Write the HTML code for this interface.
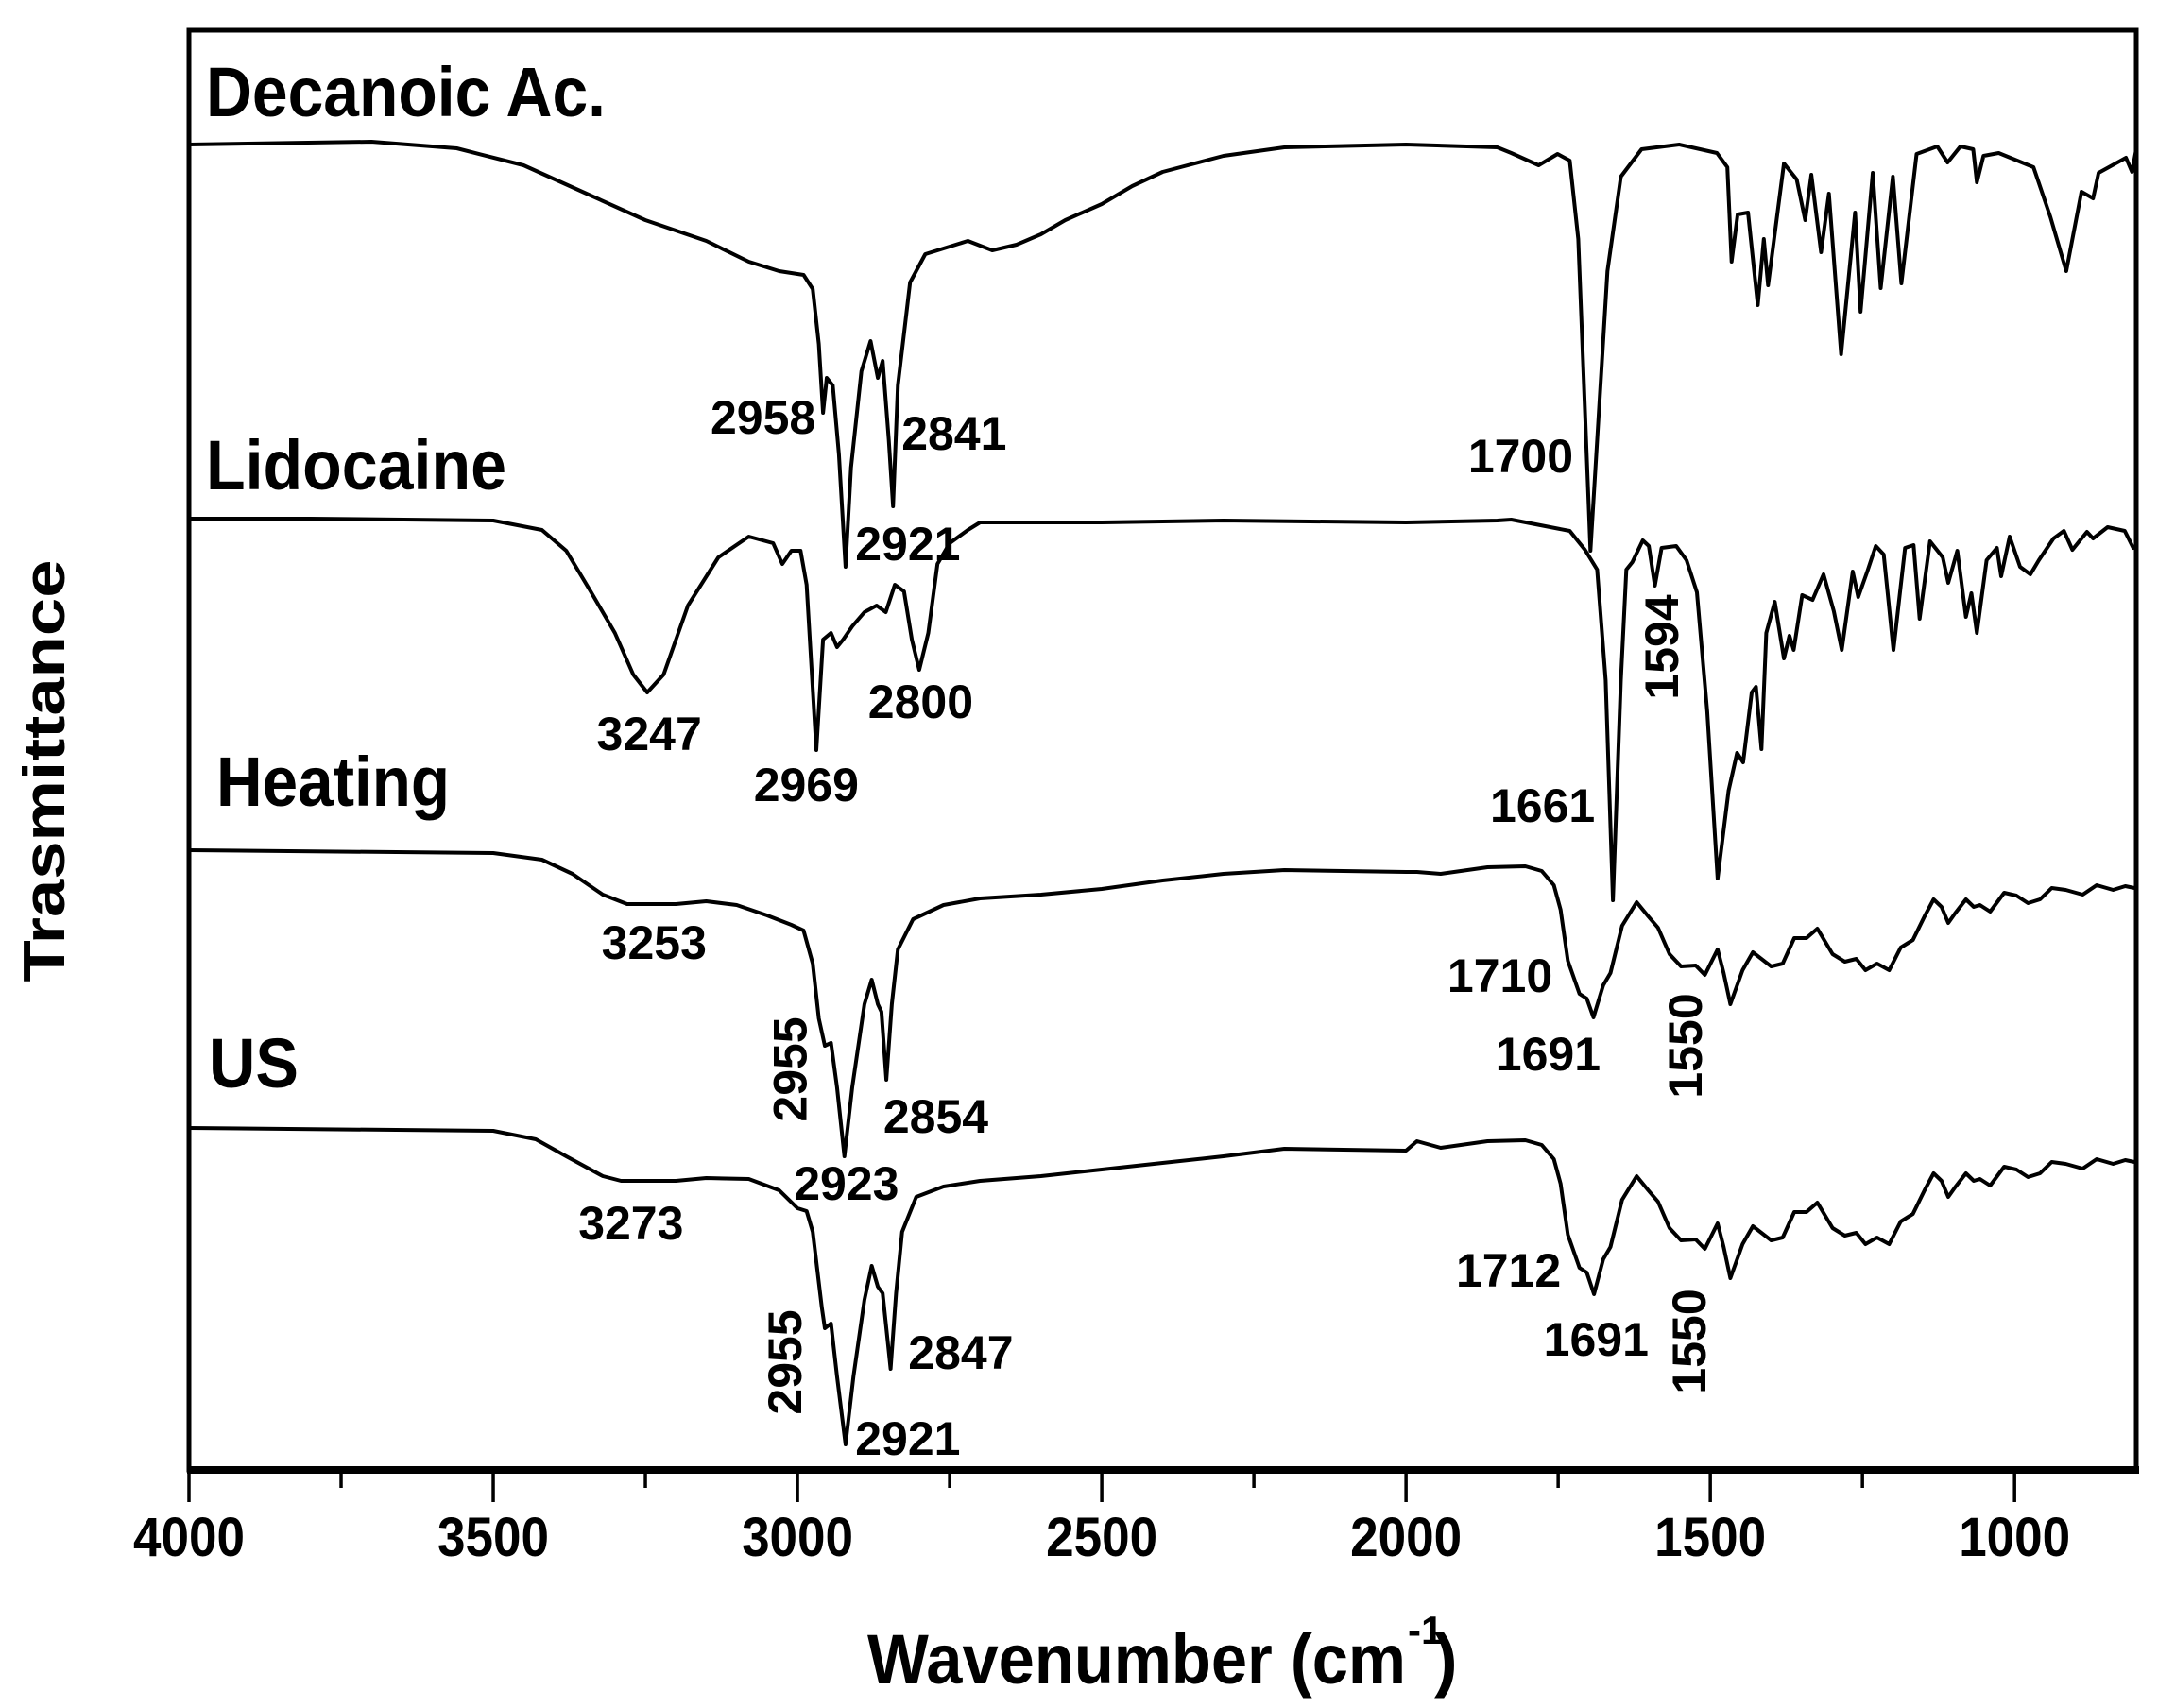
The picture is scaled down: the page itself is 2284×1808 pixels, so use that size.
<!DOCTYPE html>
<html><head><meta charset="utf-8"><style>
html,body{margin:0;padding:0;background:#fff;}
svg{display:block;}
text{font-family:"Liberation Sans",sans-serif;font-weight:bold;fill:#000;}
</style></head><body>
<svg id="chart" width="2284" height="1808" viewBox="0 0 2284 1808" xmlns="http://www.w3.org/2000/svg">
<g id="axes"></g>
<g id="series"></g>
<g id="labels"></g>
</svg>
<script>
// ---- data: wavenumber (cm-1) and transmittance (a.u.) ----
const xTicks = [4000, 3500, 3000, 2500, 2000, 1500, 1000];
const xMinorTicks = [3750, 3250, 2750, 2250, 1750, 1250];
const seriesNames = ["Decanoic Ac.", "Lidocaine", "Heating", "US"];

const decanoicWn = [4000,3700,3560,3450,3350,3250,3150,3080,3030,2990,2975,2965,2958,2952,2942,2932,2921,2912,2895,2880,2868,2860,2850,2843,2835,2815,2790,2720,2680,2640,2600,2560,2500,2450,2400,2300,2200,2000,1850,1827,1782,1751,1731,1717,1697,1669,1647,1613,1551,1489,1472,1465,1455,1438,1422,1412,1405,1379,1358,1344,1334,1318,1305,1285,1262,1253,1233,1220,1200,1186,1161,1127,1110,1089,1068,1062,1051,1026,969,941,915,890,871,862,817,807,800];
const decanoicT = [1398,1401,1394,1376,1347,1318,1296,1274,1264,1260,1245,1187,1114,1151,1143,1070,951,1056,1158,1190,1151,1169,1085,1015,1143,1252,1282,1296,1286,1292,1303,1318,1335,1354,1369,1386,1395,1398,1395,1389,1376,1388,1381,1298,968,1264,1364,1393,1398,1389,1374,1274,1324,1326,1228,1298,1249,1378,1361,1318,1366,1284,1346,1176,1326,1221,1368,1246,1364,1251,1388,1396,1379,1396,1393,1358,1386,1389,1374,1321,1264,1348,1341,1368,1384,1369,1393];

const lidoWn = [4000,3800,3500,3420,3380,3340,3300,3270,3247,3220,3180,3130,3080,3040,3025,3010,2995,2985,2969,2958,2945,2935,2925,2910,2890,2870,2855,2840,2825,2812,2800,2785,2770,2750,2720,2700,2500,2300,2000,1850,1827,1771,1731,1706,1686,1672,1660,1647,1638,1628,1611,1601,1591,1580,1556,1539,1522,1505,1488,1470,1456,1446,1432,1425,1416,1408,1394,1379,1370,1363,1349,1332,1314,1297,1284,1266,1257,1242,1228,1215,1199,1180,1166,1156,1139,1118,1109,1094,1080,1071,1062,1046,1029,1022,1008,991,974,960,936,919,905,881,871,847,819,805,800];
const lidoT = [1002,1002,1000,990,968,925,881,837,818,837,910,961,983,976,954,968,968,932,757,874,881,866,874,888,903,910,903,932,925,874,842,881,954,976,990,998,998,1000,998,1000,1001,994,989,969,948,831,598,831,948,956,979,973,931,971,973,958,924,798,621,714,754,744,818,824,758,881,914,854,878,863,921,916,943,904,863,946,919,946,973,964,863,971,974,896,978,961,934,968,898,923,881,958,971,941,983,951,943,958,981,989,969,988,981,993,989,971,973];

const heatWn = [4000,3500,3420,3370,3320,3280,3200,3150,3100,3050,3010,2990,2975,2965,2955,2945,2935,2923,2910,2890,2878,2868,2862,2854,2845,2835,2810,2760,2700,2600,2500,2400,2300,2200,2000,1982,1943,1866,1804,1777,1757,1746,1734,1715,1703,1692,1676,1664,1645,1621,1602,1586,1567,1548,1524,1509,1488,1478,1467,1447,1430,1400,1381,1362,1342,1324,1299,1279,1260,1245,1226,1206,1187,1167,1148,1133,1120,1109,1098,1080,1067,1057,1040,1017,997,978,958,939,916,888,865,838,818,803];
const heatT = [651,648,641,626,604,594,594,597,593,582,572,566,531,473,444,447,400,327,400,488,514,488,480,408,488,546,578,593,600,604,610,619,626,630,628,628,626,633,634,629,614,588,534,499,494,474,508,521,571,596,581,569,541,528,529,519,546,521,488,524,543,528,531,558,558,568,541,533,536,524,531,524,548,556,581,599,591,574,584,599,591,593,586,606,603,595,599,611,609,604,614,609,613,611];

const usWn = [4000,3500,3430,3380,3320,3290,3200,3150,3080,3030,3000,2985,2975,2960,2955,2945,2935,2921,2908,2890,2878,2868,2860,2847,2838,2828,2805,2760,2700,2600,2500,2400,2300,2200,2000,1982,1943,1866,1804,1777,1757,1746,1734,1715,1703,1691,1676,1664,1645,1621,1602,1586,1567,1548,1524,1509,1488,1478,1467,1447,1430,1400,1381,1362,1342,1324,1299,1279,1260,1245,1226,1206,1187,1167,1148,1133,1120,1109,1098,1080,1067,1057,1040,1017,997,978,958,939,916,888,865,838,818,803];
const usT = [357,354,345,327,306,301,301,304,303,291,272,269,247,167,145,150,94,22,94,175,211,189,182,102,182,247,284,295,301,306,313,320,327,335,333,343,336,343,344,339,324,298,244,209,204,181,218,231,281,306,291,279,251,238,239,229,256,231,198,234,253,238,241,268,268,278,251,243,246,234,241,234,258,266,291,309,301,284,294,309,301,303,296,316,313,305,309,321,319,314,324,319,323,321];

// peak labels: text, wavenumber anchor, transmittance anchor, rotated?
const peakText = ["2958","2841","2921","1700","3247","2969","2800","1594","1661","3253","2955","2854","2923","1710","1691","1550","3273","2955","2847","2921","1712","1691","1550"];
const peakWn =   [3143, 2829, 2905, 1898, 3330, 3072, 2884, 1581, 1862, 3322, 3013, 2859, 3006, 1932, 1853, 1542, 3360, 3022, 2818, 2905, 1918, 1774, 1536];
const peakT =    [1092, 1075, 958, 1051, 757, 703, 791, 866, 681, 536, 419, 352, 281, 501, 418, 444, 239, 109, 102, 11, 189, 116, 131];
const peakRot =  [0,0,0,0,0,0,0,1,0,0,1,0,0,0,0,1,0,1,0,0,0,0,1];

// ---- scales ----
const X0 = 200, X1 = 2261, Y0 = 1551, YTOP = 32;
const WN_MAX = 4000, WN_MIN = 800;
function xs(wn){ return X0 + (WN_MAX - wn) * (X1 - X0) / (WN_MAX - WN_MIN); }
function ys(t){ return Y0 - t; }

const NS = "http://www.w3.org/2000/svg";
function mk(tag, attrs, parent){
  const e = document.createElementNS(NS, tag);
  for (const k in attrs) e.setAttribute(k, attrs[k]);
  parent.appendChild(e);
  return e;
}
const axes = document.getElementById('axes');
const series = document.getElementById('series');
const labels = document.getElementById('labels');

// frame
const frame = mk('rect', {x:X0, y:YTOP, width:X1-X0, height:1556-YTOP, fill:'none', stroke:'#000', 'stroke-width':5}, axes);


const xAxisLine = mk('line', {x1:X0-2, y1:1556, x2:X1+3, y2:1556, stroke:'#000', 'stroke-width':8}, axes);



xTicks.forEach(function(wn){
  const t = mk('line', {x1:xs(wn), y1:1556, x2:xs(wn), y2:1590, stroke:'#000', 'stroke-width':3.5}, axes);
  
  
  const l = mk('text', {x:xs(wn), y:1647, 'text-anchor':'middle', 'font-size':58, textLength:118, lengthAdjust:'spacingAndGlyphs'}, axes);
  l.textContent = wn;
  
  
});
xMinorTicks.forEach(function(wn){
  const t = mk('line', {x1:xs(wn), y1:1556, x2:xs(wn), y2:1575, stroke:'#000', 'stroke-width':3.5}, axes);
  
  
});

const xt = mk('text', {x:918, y:1782, 'font-size':74, textLength:570, lengthAdjust:'spacingAndGlyphs'}, axes);
xt.textContent = 'Wavenumber (cm';


const xs1 = mk('text', {x:1490, y:1740, 'font-size':42}, axes);
xs1.textContent = '-1';


const xs2 = mk('text', {x:1518, y:1782, 'font-size':74}, axes);
xs2.textContent = ')';



const yt = mk('text', {x:0, y:0, 'text-anchor':'middle', 'font-size':62, textLength:447, lengthAdjust:'spacingAndGlyphs', transform:'translate(68,816) rotate(-90)'}, axes);
yt.textContent = 'Trasmittance';



// series
const allWn = [decanoicWn, lidoWn, heatWn, usWn];
const allT = [decanoicT, lidoT, heatT, usT];
const seriesKeys = ['decanoic-acid-spectrum','lidocaine-spectrum','heating-spectrum','us-spectrum'];
for (let s = 0; s < 4; s++){
  let d = '';
  for (let i = 0; i < allWn[s].length; i++){
    d += (i ? 'L' : 'M') + xs(allWn[s][i]).toFixed(1) + ',' + ys(allT[s][i]).toFixed(1);
  }
  const p = mk('path', {d:d, fill:'none', stroke:'#000', 'stroke-width':4, 'stroke-linejoin':'round'}, series);
  
  
}

// series name labels
const nameX = [218, 218, 229, 221];
const nameY = [123, 518, 853, 1151];
const nameW = [423, 318, 247, 95];
const nameKeys = ['decanoic-acid-label','lidocaine-label','heating-label','us-label'];
for (let s = 0; s < 4; s++){
  const t = mk('text', {x:nameX[s], y:nameY[s], 'font-size':74, textLength:nameW[s], lengthAdjust:'spacingAndGlyphs'}, labels);
  t.textContent = seriesNames[s];
  
  
}

// peak labels
for (let i = 0; i < peakText.length; i++){
  let t;
  if (peakRot[i]){
    const cx = xs(peakWn[i]), cy = ys(peakT[i]);
    t = mk('text', {x:0, y:0, 'text-anchor':'middle', 'font-size':50, transform:'translate(' + (cx+18).toFixed(1) + ',' + cy.toFixed(1) + ') rotate(-90)'}, labels);
  } else {
    t = mk('text', {x:xs(peakWn[i]), y:ys(peakT[i]), 'text-anchor':'start', 'font-size':50}, labels);
  }
  t.textContent = peakText[i];
  
  
}
</script>
</body></html>
